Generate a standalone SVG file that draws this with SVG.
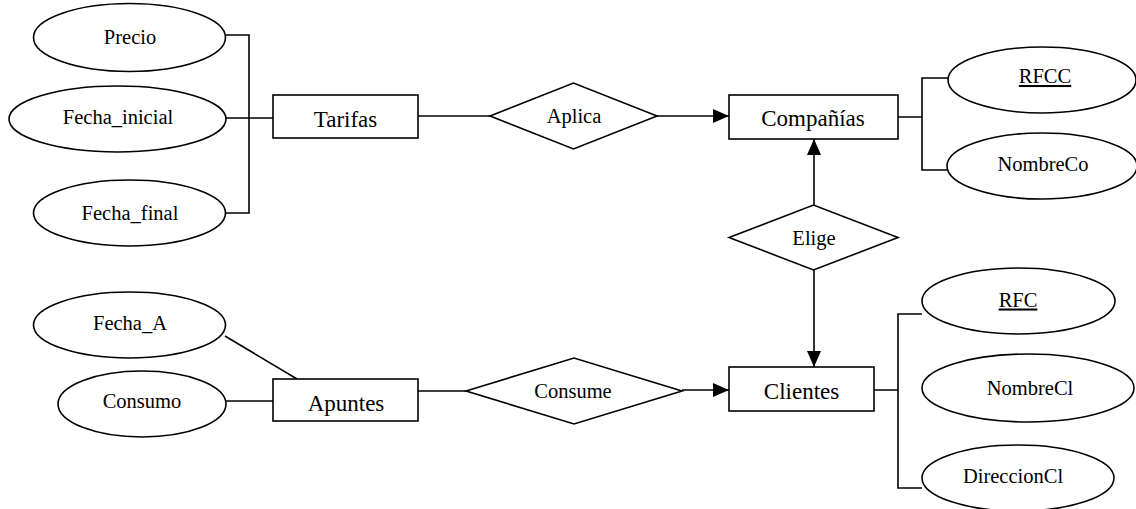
<svg xmlns="http://www.w3.org/2000/svg" width="1136" height="509" viewBox="0 0 1136 509">
<style>
.s{fill:#fff;stroke:#000;stroke-width:1.6}
.c{fill:none;stroke:#000;stroke-width:1.6}
.t{font-family:"Liberation Serif","Times New Roman",serif;fill:#000;text-anchor:middle}
.a{font-size:20.5px}
.e{font-size:23px}
.u{text-decoration:underline}
</style>
<defs>
<marker id="arr" markerUnits="userSpaceOnUse" markerWidth="16" markerHeight="14" refX="16" refY="7" orient="auto">
<path d="M0,0 L16,7 L0,14 z" fill="#000"/>
</marker>
</defs>
<g id="connectors">
<path class="c" d="M226,35 H249 V213 H226 M226,118 H273"/>
<path class="c" d="M418,116 H490"/>
<path class="c" d="M657,116 H729" marker-end="url(#arr)"/>
<path class="c" d="M898,117 H922 M948,78 H922 V170 H948"/>
<path class="c" d="M814,205 V139" marker-end="url(#arr)"/>
<path class="c" d="M814,270 V367" marker-end="url(#arr)"/>
<path class="c" d="M418,391 H466"/>
<path class="c" d="M682,390 H729" marker-end="url(#arr)"/>
<path class="c" d="M225,336 L297,379"/>
<path class="c" d="M226,401 H273"/>
<path class="c" d="M874,390 H898 M922,314 H898 V488 H922"/>
</g>
<g id="precio"><ellipse class="s" cx="129.5" cy="37.5" rx="96" ry="34"/><text class="t a" x="130" y="44">Precio</text></g>
<g id="fecha_inicial"><ellipse class="s" cx="117.5" cy="119" rx="108.5" ry="33"/><text class="t a" x="118" y="124">Fecha_inicial</text></g>
<g id="fecha_final"><ellipse class="s" cx="129.5" cy="213" rx="96" ry="33"/><text class="t a" x="130" y="220">Fecha_final</text></g>
<g id="tarifas"><rect class="s" x="273" y="95" width="145" height="43"/><text class="t e" x="345.5" y="126.5">Tarifas</text></g>
<g id="aplica"><polygon class="s" points="490,116 573.5,83 657,116 573.5,149"/><text class="t a" x="574" y="123">Aplica</text></g>
<g id="companias"><rect class="s" x="729" y="95" width="169" height="44"/><text class="t e" x="813" y="126">Compañías</text></g>
<g id="rfcc"><ellipse class="s" cx="1042" cy="80" rx="94" ry="33"/><text class="t a u" x="1045" y="83">RFCC</text></g>
<g id="nombreco"><ellipse class="s" cx="1042" cy="166" rx="95" ry="33"/><text class="t a" x="1043" y="171">NombreCo</text></g>
<g id="elige"><polygon class="s" points="729,237.5 813.5,205 898,237.5 813.5,270"/><text class="t a" x="814" y="245">Elige</text></g>
<g id="fecha_a"><ellipse class="s" cx="129.5" cy="325" rx="96" ry="33"/><text class="t a" x="130" y="330">Fecha_A</text></g>
<g id="consumo"><ellipse class="s" cx="142" cy="404" rx="84" ry="33"/><text class="t a" x="142" y="408">Consumo</text></g>
<g id="apuntes"><rect class="s" x="273" y="379" width="145" height="42"/><text class="t e" x="346" y="411">Apuntes</text></g>
<g id="consume"><polygon class="s" points="466,391 574,358 682,391 574,424"/><text class="t a" x="573" y="398">Consume</text></g>
<g id="clientes"><rect class="s" x="729" y="367" width="145" height="44"/><text class="t e" x="801.5" y="399">Clientes</text></g>
<g id="rfc"><ellipse class="s" cx="1018.5" cy="301" rx="96.5" ry="33"/><text class="t a u" x="1018" y="306.5">RFC</text></g>
<g id="nombrecl"><ellipse class="s" cx="1028" cy="388" rx="106" ry="34"/><text class="t a" x="1030" y="395">NombreCl</text></g>
<g id="direccioncl"><ellipse class="s" cx="1018" cy="478" rx="96" ry="33"/><text class="t a" x="1013" y="483">DireccionCl</text></g>
</svg>
